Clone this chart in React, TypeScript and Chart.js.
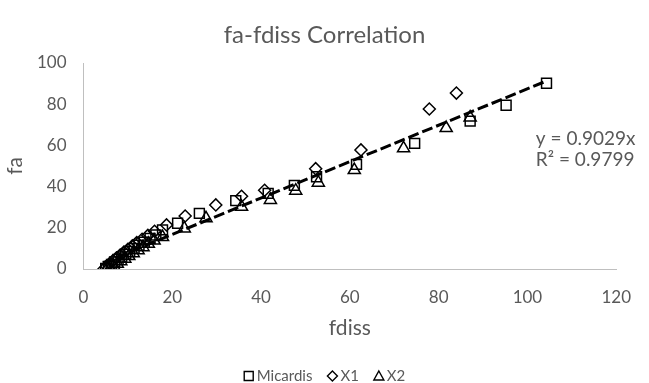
import React, { useEffect, useRef } from "react";
import { Chart, registerables } from "chart.js";

Chart.register(...registerables);

// Micardis (squares)
const micardisFdiss = [5.0, 5.6, 6.3, 7.0, 7.8, 8.6, 9.5, 10.4, 11.4, 12.5, 13.7, 15.0, 16.3, 17.8, 21.2, 26.1, 34.3, 41.6, 47.5, 52.5, 61.5, 74.6, 87.1, 95.2, 104.3];
const micardisFa = [0.3, 1.2, 2.2, 3.4, 4.6, 5.8, 7.2, 8.5, 10.0, 11.5, 13.0, 14.8, 16.5, 19.0, 22.2, 27.0, 33.2, 36.7, 40.6, 44.8, 50.8, 61.0, 71.8, 79.5, 90.2];
// X1 (diamonds)
const x1Fdiss = [4.6, 5.2, 5.9, 6.6, 7.4, 8.2, 9.1, 10.0, 11.0, 12.0, 13.2, 14.5, 16.0, 18.7, 22.9, 29.8, 35.6, 40.8, 52.3, 62.5, 77.9, 84.0];
const x1Fa = [0.0, 1.3, 2.6, 4.0, 5.3, 6.7, 8.2, 9.6, 11.2, 12.8, 14.4, 16.3, 18.3, 21.4, 25.7, 31.1, 35.3, 38.2, 48.7, 57.8, 77.7, 85.4];
// X2 (triangles)
const x2Fdiss = [5.3, 6.0, 6.8, 7.6, 8.4, 9.3, 10.2, 11.2, 12.3, 13.4, 14.6, 15.9, 17.8, 22.7, 27.6, 35.6, 42.1, 47.8, 52.9, 61.0, 72.1, 81.7, 87.1];
const x2Fa = [0.0, 0.6, 1.5, 2.6, 3.8, 5.0, 6.3, 7.7, 9.1, 10.6, 12.2, 13.8, 15.5, 19.7, 24.6, 30.2, 33.5, 38.0, 41.9, 48.0, 58.6, 68.4, 73.5];
// Linear trendline (through origin) endpoints as drawn
const trendFdiss = [4.4, 104.0];
const trendFa = [3.0, 91.0];

const xTicks = [0, 20, 40, 60, 80, 100, 120];
const yTicks = [0, 20, 40, 60, 80, 100];
const chartTitle = "fa-fdiss Correlation";
const trendLabels = ["y = 0.9029x", "R\u00B2 = 0.9799"];
const legendNames = ["Micardis", "X1", "X2"];
const legendShapes = ["rect", "rectRot", "triangle"];

const FONT = "Lato, 'Liberation Sans', sans-serif";
const GREY = "#595959";

const pts = (xs: number[], ys: number[]) => xs.map((x, i) => ({ x, y: ys[i] }));

const titlePlugin = {
  id: "centeredTitle",
  afterDraw(chart: any) {
    const ctx = chart.ctx;
    ctx.save();
    ctx.font = `24px ${FONT}`;
    ctx.fillStyle = GREY;
    ctx.textAlign = "center";
    ctx.textBaseline = "middle";
    ctx.fillText(chartTitle, chart.width / 2, 35);
    ctx.restore();
  },
};

const trendTextPlugin = {
  id: "trendText",
  afterDatasetsDraw(chart: any) {
    const ctx = chart.ctx;
    const xs = chart.scales.x;
    const ys = chart.scales.y;
    ctx.save();
    ctx.font = `19px ${FONT}`;
    ctx.fillStyle = GREY;
    ctx.textAlign = "left";
    ctx.textBaseline = "middle";
    const px = xs.getPixelForValue(101.9);
    ctx.fillText(trendLabels[0], px, ys.getPixelForValue(63.1));
    ctx.fillText(trendLabels[1], px, ys.getPixelForValue(52.9));
    ctx.restore();
  },
};

const customLegendPlugin = {
  id: "customLegend",
  afterDraw(chart: any) {
    const ctx = chart.ctx;
    ctx.save();
    ctx.font = `15px ${FONT}`;
    const mW = 10;
    const gap = 3;
    const spacing = 15;
    const widths = legendNames.map((n) => mW + gap + ctx.measureText(n).width);
    const total = widths.reduce((a, b) => a + b, 0) + spacing * (legendNames.length - 1);
    let x = chart.width / 2 - total / 2;
    const cy = chart.height - 7;
    legendNames.forEach((name, i) => {
      const cx = x + mW / 2;
      ctx.strokeStyle = "#000";
      ctx.lineWidth = 1.4;
      ctx.beginPath();
      const shape = legendShapes[i];
      if (shape === "rect") {
        ctx.rect(cx - 4.5, cy - 4.5, 9, 9);
      } else if (shape === "rectRot") {
        ctx.moveTo(cx - 5, cy);
        ctx.lineTo(cx, cy - 5);
        ctx.lineTo(cx + 5, cy);
        ctx.lineTo(cx, cy + 5);
        ctx.closePath();
      } else {
        ctx.moveTo(cx, cy - 5);
        ctx.lineTo(cx + 5, cy + 4);
        ctx.lineTo(cx - 5, cy + 4);
        ctx.closePath();
      }
      ctx.stroke();
      ctx.fillStyle = GREY;
      ctx.textAlign = "left";
      ctx.textBaseline = "middle";
      ctx.fillText(name, x + mW + gap, cy);
      x += widths[i] + spacing;
    });
    ctx.restore();
  },
};

export default function App() {
  const ref = useRef<HTMLCanvasElement>(null);
  useEffect(() => {
    if (!ref.current) return;
    const marker = {
      borderColor: "#000000",
      backgroundColor: "rgba(0,0,0,0)",
      borderWidth: 1.5,
      showLine: false,
    };
    const chart = new Chart(ref.current, {
      type: "scatter",
      data: {
        datasets: [
          { label: legendNames[0], data: pts(micardisFdiss, micardisFa), pointStyle: "rect", pointRadius: 7, pointHoverRadius: 7, ...marker },
          { label: legendNames[1], data: pts(x1Fdiss, x1Fa), pointStyle: "rectRot", pointRadius: 6, pointHoverRadius: 6, ...marker },
          { label: legendNames[2], data: pts(x2Fdiss, x2Fa), pointStyle: "triangle", pointRadius: 7, pointHoverRadius: 7, ...marker },
          {
            label: "trend",
            type: "line",
            data: pts(trendFdiss, trendFa),
            borderColor: "#000000",
            borderWidth: 3,
            borderDash: [11, 4],
            pointRadius: 0,
            showLine: true,
            fill: false,
          } as any,
        ],
      },
      options: {
        animation: false,
        responsive: false,
        maintainAspectRatio: false,
        layout: { padding: { left: 0, right: 31, top: 63, bottom: 0 } },
        plugins: {
          tooltip: { enabled: false },
          title: { display: false },
          legend: { display: false },
        },
        scales: {
          x: {
            type: "linear",
            min: 0,
            max: 120,
            afterBuildTicks: (s: any) => { s.ticks = xTicks.map((v) => ({ value: v })); },
            afterFit: (s: any) => { s.height = 114; },
            grid: { display: false, drawTicks: false },
            border: { display: true, color: "#bfbfbf", width: 1 },
            ticks: { color: GREY, font: { family: FONT, size: 17 }, padding: 18 },
            title: {
              display: true,
              text: "fdiss",
              color: GREY,
              font: { family: FONT, size: 21, weight: "normal" },
              padding: { top: 4, bottom: 42 },
            },
          },
          y: {
            type: "linear",
            min: 0,
            max: 100,
            afterBuildTicks: (s: any) => { s.ticks = yTicks.map((v) => ({ value: v })); },
            afterFit: (s: any) => { s.width = 83.5; },
            grid: { display: false, drawTicks: false },
            border: { display: true, color: "#bfbfbf", width: 1 },
            ticks: { color: GREY, font: { family: FONT, size: 17 }, padding: 17 },
            title: {
              display: true,
              text: "fa",
              color: GREY,
              font: { family: FONT, size: 21, weight: "normal" },
              padding: { top: 3, bottom: 0 },
            },
          },
        },
      },
      plugins: [titlePlugin, trendTextPlugin, customLegendPlugin],
    });
    return () => chart.destroy();
  }, []);
  return (
    <div style={{ position: "fixed", left: 0, top: 0, width: 649, height: 383, background: "#fff" }}>
      <canvas ref={ref} width={649} height={383} style={{ width: 649, height: 383 }} />
    </div>
  );
}
